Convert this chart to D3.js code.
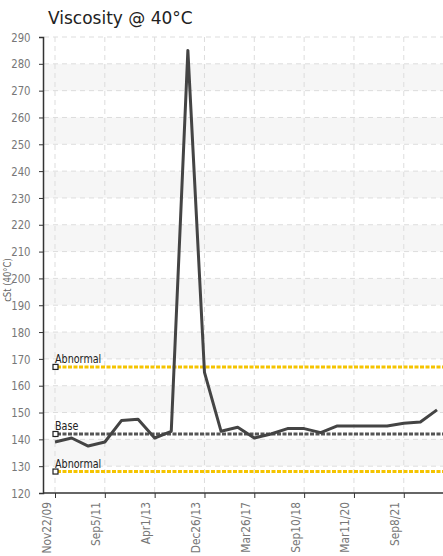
<!DOCTYPE html><html><head><meta charset="utf-8"><script src="https://cdn.jsdelivr.net/npm/d3@7"></script>
<style>body{margin:0;background:#fff}text{font-family:Verdana,"DejaVu Sans",sans-serif}</style></head><body><svg id="c" width="443" height="556"></svg>
<script>
const values=[139,140.5,137.5,139,147,147.5,140.5,143,285,165,143,144.5,140.5,142,144,144,142.5,145,145,145,145,146,146.5,151];
const tickLabels=["Nov22/09","Sep5/11","Apr1/13","Dec26/13","Mar26/17","Sep10/18","Mar11/20","Sep8/21"];
const limits=[{label:"Abnormal",v:167,color:"#f5c400"},{label:"Base",v:142,color:"#555"},{label:"Abnormal",v:128,color:"#f5c400"}];
const yTicks=d3.range(120,291,10);
const svg=d3.select("#c");
const x=d3.scaleLinear().domain([0,23]).range([55,437]);
const y=d3.scaleLinear().domain([120,290]).range([493,37]);
const g=svg.append("g");
for(let v=130;v<280;v+=20){g.append("rect").attr("x",44).attr("width",399).attr("y",y(v+10)).attr("height",y(v)-y(v+10)).attr("fill","#f6f6f6");}
yTicks.slice(1).forEach(v=>g.append("line").attr("x1",44).attr("x2",443).attr("y1",y(v)).attr("y2",y(v)).attr("stroke","#ddd").attr("stroke-dasharray","5,4"));
tickLabels.forEach((t,i)=>g.append("line").attr("x1",x(i*3)).attr("x2",x(i*3)).attr("y1",y(290)).attr("y2",y(120)).attr("stroke","#ddd").attr("stroke-dasharray","5,4"));
const ya=svg.append("g").attr("transform","translate(43,0)").call(d3.axisLeft(y).tickValues(yTicks).tickSize(4).tickPadding(3));
ya.selectAll("text").attr("fill","#777").attr("font-size",13).attr("transform","translate(-7,0) scale(0.78,1)").attr("font-family","'DejaVu Sans',sans-serif");
ya.select(".domain").attr("stroke","#333").attr("stroke-width",1.5);ya.selectAll(".tick line").attr("stroke","#333");
const xs=d3.scaleOrdinal().domain(tickLabels).range(tickLabels.map((t,i)=>x(i*3)));
const xa=svg.append("g").attr("transform","translate(0,493)").call(d3.axisBottom(xs).tickSize(5));
xa.select(".domain").remove();
svg.append("line").attr("x1",43).attr("x2",443).attr("y1",493).attr("y2",493).attr("stroke","#333").attr("stroke-width",1.5);
xa.selectAll(".tick line").attr("stroke","#333");
xa.selectAll("text").attr("transform","rotate(-90) scale(0.82,1)").attr("text-anchor","end").attr("x",-11).attr("y",-5).attr("dy","0").attr("fill","#777").attr("font-size",13).attr("font-family","'DejaVu Sans',sans-serif");
limits.forEach(l=>{
 svg.append("line").attr("x1",57).attr("x2",443).attr("y1",y(l.v)).attr("y2",y(l.v)).attr("stroke",l.color).attr("stroke-width",3).attr("stroke-dasharray","4,1.5");
 svg.append("rect").attr("x",53).attr("y",y(l.v)-2.5).attr("width",5).attr("height",5).attr("fill","#fff").attr("stroke","#222").attr("stroke-width",1.2);
 svg.append("text").attr("transform",`translate(55,${y(l.v)-4}) scale(0.8,1)`).text(l.label).attr("font-size",12).attr("fill","#222");
});
svg.append("path").datum(values).attr("d",d3.line().x((d,i)=>x(i)).y(d=>y(d))).attr("fill","none").attr("stroke","#444").attr("stroke-width",3).attr("stroke-linejoin","round");
svg.append("text").attr("x",48).attr("y",24).text("Viscosity @ 40°C").attr("font-size",17).attr("fill","#222");
svg.append("text").attr("transform","translate(11,280) rotate(-90) scale(0.85,1)").attr("text-anchor","middle").text("cSt (40°C)").attr("font-size",10).attr("fill","#666");
</script></body></html>
